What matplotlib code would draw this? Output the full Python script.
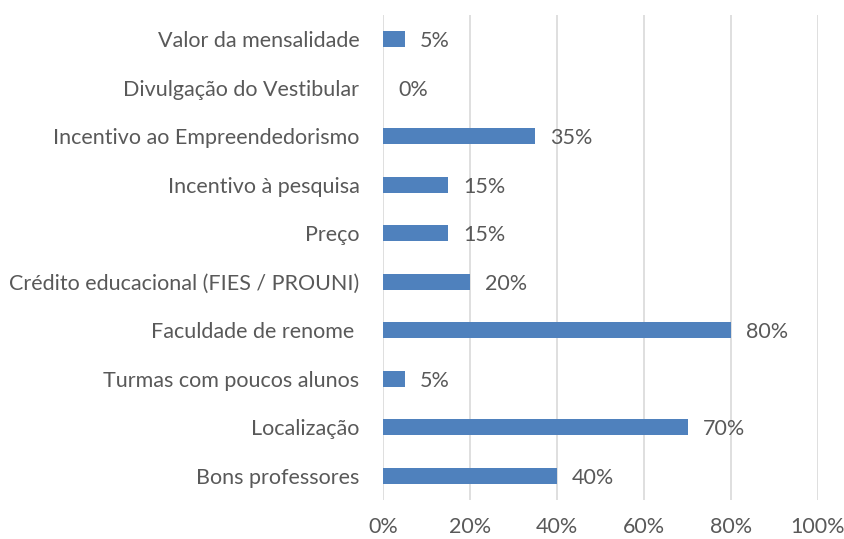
import matplotlib
matplotlib.use("Agg")
import matplotlib.pyplot as plt
from matplotlib.ticker import FuncFormatter

categories = ["Bons professores", "Localização", "Turmas com poucos alunos",
              "Faculdade de renome ", "Crédito educacional (FIES / PROUNI)",
              "Preço", "Incentivo à pesquisa", "Incentivo ao Empreendedorismo",
              "Divulgação do Vestibular", "Valor da mensalidade"]
values = [40, 70, 5, 80, 20, 15, 15, 35, 0, 5]
xticks = [0, 20, 40, 60, 80, 100]

plt.rcParams['font.family'] = ['Lato', 'DejaVu Sans']
text_color = "#595959"
fs = 15.5
W, H = 844, 539
fig = plt.figure(figsize=(W/100, H/100), dpi=100)
ax = fig.add_axes([383/W, (H-500)/H, (818-383)/W, (500-15)/H])

y = list(range(len(categories)))
ax.barh(y, values, height=0.33, color="#4F81BD", zorder=3)
for yi, v in zip(y, values):
    ax.annotate(f"{v}%", (v, yi), xytext=(15, -2), textcoords="offset pixels",
                va="center", ha="left", fontsize=fs, color=text_color)

ax.set_xlim(0, 100)
ax.set_ylim(-0.5, len(categories)-0.5)
ax.set_xticks(xticks)
ax.xaxis.set_major_formatter(FuncFormatter(lambda v, p: f"{int(v)}%"))
ax.set_yticks(y)
ax.set_yticklabels(categories)
ax.tick_params(axis='both', length=0, labelsize=fs, colors=text_color)
ax.tick_params(axis='x', pad=12)
ax.tick_params(axis='y', pad=17)
ax.grid(axis='x', color="#D9D9D9", linewidth=1.2, zorder=0)
for s in ax.spines.values():
    s.set_visible(False)

fig.savefig("out.png", dpi=100)
